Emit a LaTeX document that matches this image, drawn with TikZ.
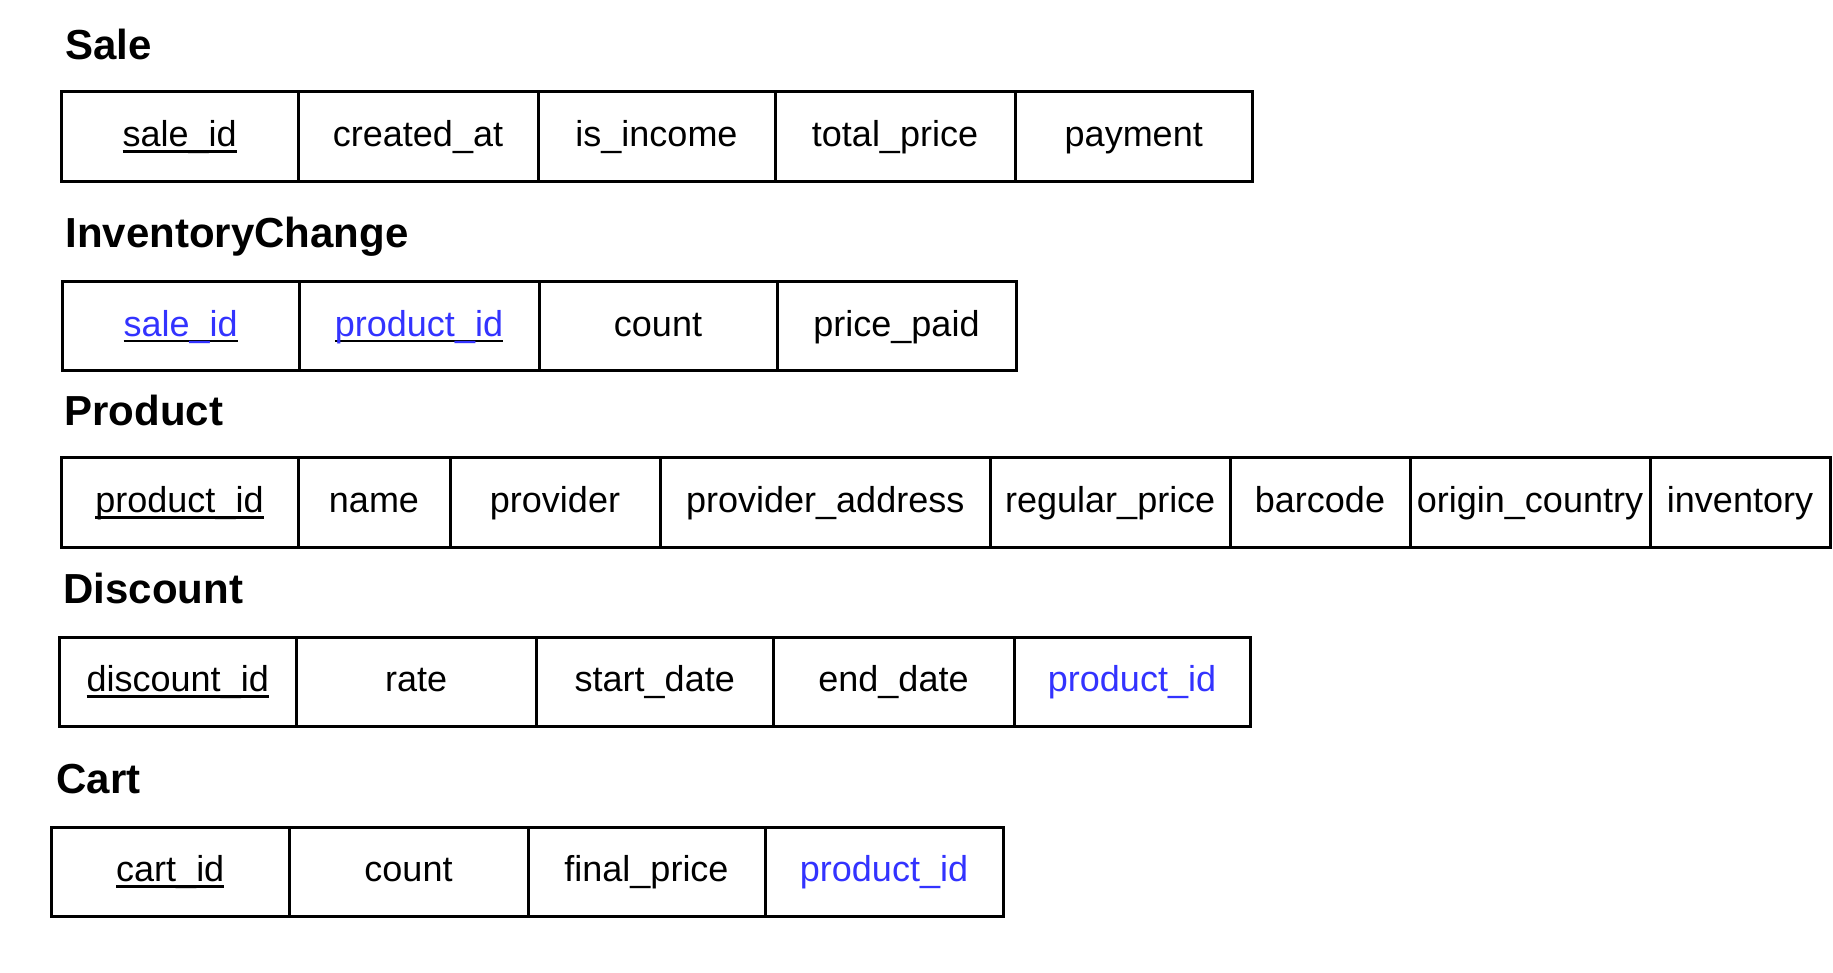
\documentclass[tikz,border=0pt]{standalone}
\usepackage{fontspec}
\setmainfont{Liberation Sans}
\usepackage{tikz}
\usetikzlibrary{positioning}
\definecolor{fkblue}{RGB}{51,51,255}

% underlined key, rule stays black
\newcommand{\pkey}[1]{\setbox0=\hbox{#1}\rlap{\color{black}\rule[-0.17em]{\wd0}{0.075em}}\box0}
\newcommand{\fkey}[1]{\textcolor{fkblue}{#1}}

\begin{document}
\begin{tikzpicture}[
    tbl/.style={anchor=base west,inner sep=0pt,font=\fontsize{21}{25}\selectfont\bfseries},
    cell/.style={draw,line width=1.5pt,outer sep=0pt,inner sep=0pt,minimum height=44.75pt,
        text height=12.9pt,text depth=3pt,font=\fontsize{18}{22}\selectfont}
]
\useasboundingbox (0,0) rectangle (916.5pt,-486.5pt);

% Sale
\node[tbl] (sale) at (32.5pt,-30pt) {Sale};
\node[cell,anchor=north west,minimum width=118.25pt] (saleId) at (30.75pt,-46pt) {\pkey{sale\_id}};
\node[cell,right=0pt of saleId,minimum width=120pt] (saleCreated) {created\_at};
\node[cell,right=0pt of saleCreated,minimum width=118.5pt] (saleIncome) {is\_income};
\node[cell,right=0pt of saleIncome,minimum width=120pt] (saleTotal) {total\_price};
\node[cell,right=0pt of saleTotal,minimum width=118.75pt] (salePayment) {payment};

% InventoryChange
\node[tbl] (inv) at (32.5pt,-124pt) {InventoryChange};
\node[cell,anchor=north west,minimum width=118.25pt] (invSale) at (31.25pt,-140.75pt) {\pkey{\fkey{sale\_id}}};
\node[cell,right=0pt of invSale,minimum width=120pt] (invProduct) {\pkey{\fkey{product\_id}}};
\node[cell,right=0pt of invProduct,minimum width=119pt] (invCount) {count};
\node[cell,right=0pt of invCount,minimum width=119.5pt] (invPrice) {price\_paid};

% Product
\node[tbl] (product) at (32pt,-213pt) {Product};
\node[cell,anchor=north west,minimum width=118.5pt] (prodId) at (30.5pt,-229pt) {\pkey{product\_id}};
\node[cell,right=0pt of prodId,minimum width=76pt] (prodName) {name};
\node[cell,right=0pt of prodName,minimum width=105pt] (prodProvider) {provider};
\node[cell,right=0pt of prodProvider,minimum width=165.25pt] (prodAddress) {provider\_address};
\node[cell,right=0pt of prodAddress,minimum width=119.75pt] (prodPrice) {regular\_price};
\node[cell,right=0pt of prodPrice,minimum width=90pt] (prodBarcode) {barcode};
\node[cell,right=0pt of prodBarcode,minimum width=120pt] (prodCountry) {origin\_country};
\node[cell,right=0pt of prodCountry,minimum width=90pt] (prodInventory) {inventory};

% Discount
\node[tbl] (discount) at (31.5pt,-301.75pt) {Discount};
\node[cell,anchor=north west,minimum width=118.25pt] (discId) at (29.75pt,-318.5pt) {\pkey{discount\_id}};
\node[cell,right=0pt of discId,minimum width=120.25pt] (discRate) {rate};
\node[cell,right=0pt of discRate,minimum width=118.25pt] (discStart) {start\_date};
\node[cell,right=0pt of discStart,minimum width=120.5pt] (discEnd) {end\_date};
\node[cell,right=0pt of discEnd,minimum width=118pt] (discProduct) {\fkey{product\_id}};

% Cart
\node[tbl] (cart) at (28pt,-396.75pt) {Cart};
\node[cell,anchor=north west,minimum width=118.75pt] (cartId) at (25.75pt,-413.5pt) {\pkey{cart\_id}};
\node[cell,right=0pt of cartId,minimum width=119.5pt] (cartCount) {count};
\node[cell,right=0pt of cartCount,minimum width=118.5pt] (cartPrice) {final\_price};
\node[cell,right=0pt of cartPrice,minimum width=119pt] (cartProduct) {\fkey{product\_id}};
\end{tikzpicture}
\end{document}
